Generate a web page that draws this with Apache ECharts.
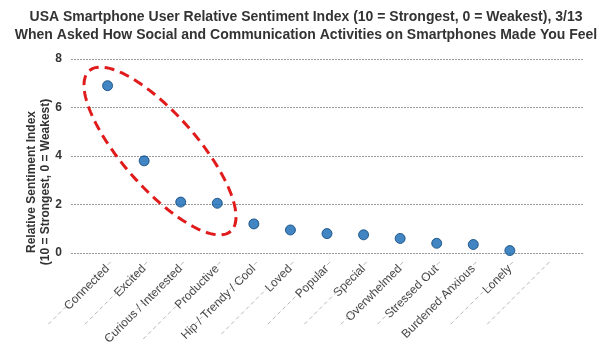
<!DOCTYPE html>
<html>
<head>
<meta charset="utf-8">
<script src="https://cdn.jsdelivr.net/npm/echarts@6/dist/echarts.min.js"></script>
<style>html,body{margin:0;padding:0;background:#fff}#c{width:612px;height:356px}</style>
</head>
<body>
<div id="c"></div>
<script>
var titleText = 'USA Smartphone User Relative Sentiment Index (10 = Strongest, 0 = Weakest), 3/13\nWhen Asked How Social and Communication Activities on Smartphones Made You Feel';
var yAxisTitle = 'Relative Sentiment Index\n(10 = Strongest, 0 = Weakest)';
var categories = ['Connected', 'Excited', 'Curious / Interested', 'Productive', 'Hip / Trendy / Cool', 'Loved', 'Popular', 'Special', 'Overwhelmed', 'Stressed Out', 'Burdened Anxious', 'Lonely'];
var values = [6.9, 3.8, 2.1, 2.05, 1.2, 0.95, 0.8, 0.75, 0.6, 0.4, 0.35, 0.1];
var yTicks = [0, 2, 4, 6, 8];

// padded category axis: one blank slot before, two after
var axisCats = [''].concat(categories, ['', '']);
var pointData = values.map(function (v, i) { return [i + 1, v]; });
// separator lines between labels (at category boundaries)
var sepData = [];
for (var i = 0; i <= categories.length; i++) {
  var a = categories[i - 1] || '', b = categories[i] || '';
  sepData.push([i + 0.5, Math.max(a.length, b.length)]);
}

// highlight ellipse annotation (pixel geometry)
var ell = [];
(function () {
  var cx = 160, cy = 151, ra = 107, rb = 37, th = 48.6 * Math.PI / 180;
  for (var k = 0; k < 120; k++) {
    var t = k / 120 * Math.PI * 2;
    var x = ra * Math.cos(t), y = rb * Math.sin(t);
    ell.push([cx + x * Math.cos(th) - y * Math.sin(th), cy + x * Math.sin(th) + y * Math.cos(th)]);
  }
})();

var chart = echarts.init(document.getElementById('c'), null, {renderer: 'canvas'});
chart.setOption({
  animation: false,
  textStyle: {fontFamily: 'Liberation Sans, Arial, sans-serif'},
  title: {
    text: titleText, left: 'center', top: 3,
    textStyle: {fontSize: 14, fontWeight: 'bold', color: '#333', lineHeight: 18, fontFamily: 'Liberation Sans, Arial, sans-serif'}
  },
  grid: {left: 71, right: 29, top: 59, bottom: 103, containLabel: false},
  xAxis: {
    type: 'category', data: axisCats, boundaryGap: false,
    axisLine: {show: false}, axisTick: {show: false},
    axisLabel: {rotate: 45, margin: 14, interval: 0, fontSize: 12, color: '#444'},
    splitLine: {show: false}
  },
  yAxis: {
    type: 'value', min: 0, max: 8, interval: 2,
    axisLine: {show: false}, axisTick: {show: false},
    axisLabel: {fontSize: 12, fontWeight: 'bold', color: '#333', margin: 9,
      formatter: function (v) { return yTicks.indexOf(v) >= 0 ? String(v) : ''; }},
    splitLine: {lineStyle: {color: '#9a9a9a', type: [2, 1], width: 1}}
  },
  graphic: [
    {type: 'text', x: 39, y: 182, rotation: Math.PI / 2,
      style: {text: yAxisTitle, align: 'center', verticalAlign: 'middle', fontSize: 12, fontWeight: 'bold', fill: '#333', lineHeight: 14, fontFamily: 'Liberation Sans, Arial, sans-serif'}},
    {type: 'polygon', z: 100, shape: {points: ell},
      style: {fill: 'none', stroke: '#e01b1b', lineWidth: 3, lineDash: [10, 6]}}
  ],
  series: [
    {
      type: 'custom', silent: true, clip: false, z: 1,
      data: sepData,
      renderItem: function (params, api) {
        var p = api.coord([api.value(0), 0]);
        var len = Math.max(90, api.value(1) * 5.5);
        var d = len / Math.SQRT2;
        var x0 = p[0] + 3, y0 = p[1] + 9;
        return {type: 'line', shape: {x1: x0, y1: y0, x2: x0 - d, y2: y0 + d},
          style: {stroke: '#b5b5b5', lineWidth: 1, lineDash: [4, 3]}};
      }
    },
    {
      type: 'scatter', data: pointData, symbolSize: 10, z: 5,
      itemStyle: {color: '#1268b3', borderColor: '#0b4478', borderWidth: 1}
    }
  ]
});
</script>
</body>
</html>
